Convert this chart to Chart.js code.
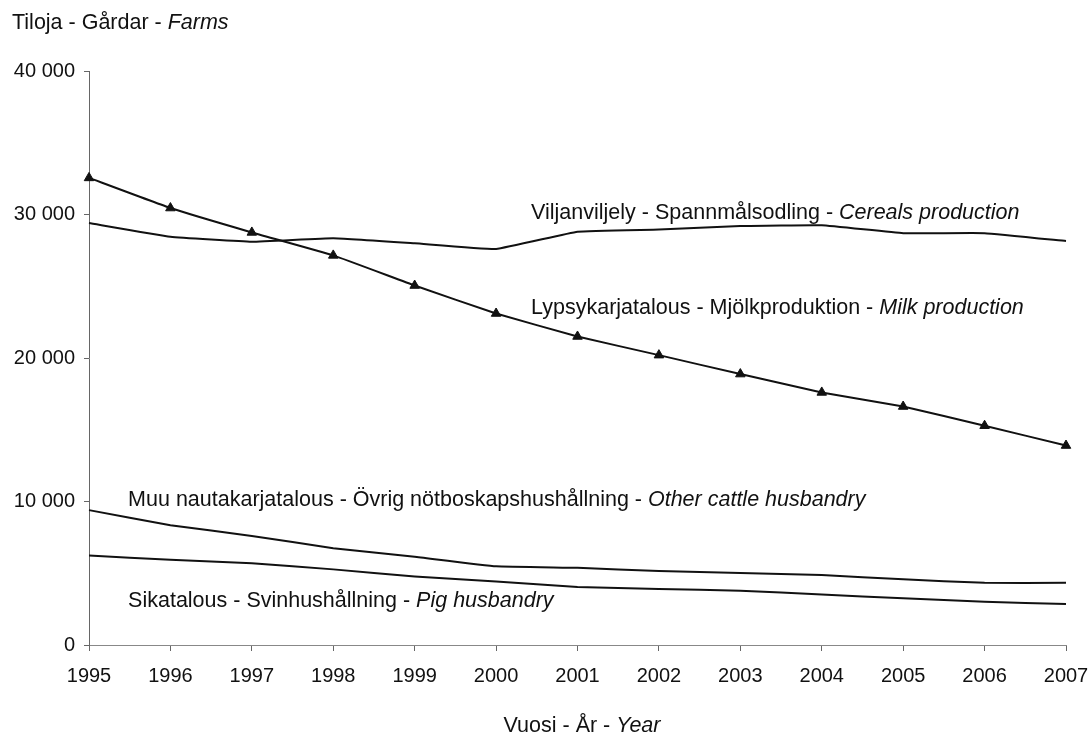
<!DOCTYPE html>
<html>
<head>
<meta charset="utf-8">
<script src="https://cdn.jsdelivr.net/npm/chart.js@4/dist/chart.umd.min.js"></script>
<style>
  html, body { margin: 0; padding: 0; background: #fff; }
  #wrap { width: 1088px; height: 736px; }
</style>
</head>
<body>
<div id="wrap"><canvas id="chart" width="1088" height="736"></canvas></div>
<script>
var years = ['1995','1996','1997','1998','1999','2000','2001','2002','2003','2004','2005','2006','2007'];
var cereals = [29400, 28450, 28100, 28350, 28000, 27600, 28800, 28950, 29200, 29250, 28700, 28700, 28150];
var milk = [32550, 30450, 28750, 27150, 25050, 23100, 21500, 20200, 18880, 17600, 16620, 15280, 13900];
var otherCattle = [9400, 8350, 7600, 6750, 6150, 5480, 5380, 5150, 5020, 4870, 4580, 4330, 4330];
var pigs = [6230, 5940, 5690, 5270, 4780, 4420, 4040, 3900, 3780, 3520, 3250, 3010, 2860];
var yTicks = [0, 10000, 20000, 30000, 40000];

var FONT = '"Liberation Sans", Arial, sans-serif';
var LABEL_SIZE = 21.5;

// series labels, placed in data units (x = year index)
var seriesLabels = [
  { x: 5.43, y: 30100, parts: [['Viljanviljely - Spannmålsodling - ', false], ['Cereals production', true]] },
  { x: 5.43, y: 23450, parts: [['Lypsykarjatalous - Mjölkproduktion - ', false], ['Milk production', true]] },
  { x: 0.48, y: 10100, parts: [['Muu nautakarjatalous - Övrig nötboskapshushållning - ', false], ['Other cattle husbandry', true]] },
  { x: 0.48, y: 3050, parts: [['Sikatalous - Svinhushållning - ', false], ['Pig husbandry', true]] }
];

function drawRuns(ctx, parts, x, y, align) {
  var total = 0;
  parts.forEach(function(p) {
    ctx.font = (p[1] ? 'italic ' : '') + LABEL_SIZE + 'px ' + FONT;
    total += ctx.measureText(p[0]).width;
  });
  if (align === 'center') x -= total / 2;
  parts.forEach(function(p) {
    ctx.font = (p[1] ? 'italic ' : '') + LABEL_SIZE + 'px ' + FONT;
    ctx.fillText(p[0], x, y);
    x += ctx.measureText(p[0]).width;
  });
}

var textPlugin = {
  id: 'texts',
  afterDraw: function(chart) {
    var ctx = chart.ctx;
    var xs = chart.scales.x, ys = chart.scales.y;
    ctx.save();
    ctx.fillStyle = '#111';
    ctx.textBaseline = 'middle';
    ctx.textAlign = 'left';
    drawRuns(ctx, [['Tiloja - Gårdar - ', false], ['Farms', true]], 12, 23, 'left');
    drawRuns(ctx, [['Vuosi - År - ', false], ['Year', true]], 582, 726, 'center');
    seriesLabels.forEach(function(l) {
      drawRuns(ctx, l.parts, xs.getPixelForValue(l.x), ys.getPixelForValue(l.y), 'left');
    });
    ctx.restore();
  }
};

function line(data, withMarkers) {
  return {
    data: data,
    borderColor: '#111',
    backgroundColor: '#111',
    borderWidth: 2,
    tension: 0.1,
    pointStyle: 'triangle',
    pointRadius: withMarkers ? 5.5 : 0,
    pointBorderWidth: 1
  };
}

new Chart(document.getElementById('chart'), {
  type: 'line',
  data: {
    labels: years,
    datasets: [line(cereals, false), line(milk, true), line(otherCattle, false), line(pigs, false)]
  },
  options: {
    responsive: false,
    animation: false,
    layout: { padding: { top: 71, right: 22, left: 0, bottom: 0 } },
    plugins: { legend: { display: false }, tooltip: { enabled: false } },
    scales: {
      x: {
        offset: false,
        grid: { drawOnChartArea: false, drawTicks: true, tickLength: 6, color: '#666' },
        border: { display: true, color: '#888', width: 1 },
        ticks: { color: '#111', font: { family: FONT, size: 20 }, padding: 13, maxRotation: 0, autoSkip: false },
        afterFit: function(s) { s.height = 91; s.paddingLeft = 0; s.paddingRight = 0; }
      },
      y: {
        min: 0,
        max: 40000,
        afterBuildTicks: function(s) { s.ticks = yTicks.map(function(v) { return { value: v }; }); },
        grid: { drawOnChartArea: false, drawTicks: true, tickLength: 5, color: '#666' },
        border: { display: true, color: '#666', width: 1 },
        ticks: {
          color: '#111',
          font: { family: FONT, size: 20 },
          padding: 9,
          callback: function(v) { return String(v).replace(/\B(?=(\d{3})+(?!\d))/g, ' '); }
        },
        afterFit: function(s) { s.width = 89; s.paddingTop = 0; s.paddingBottom = 0; }
      }
    }
  },
  plugins: [textPlugin]
});
</script>
</body>
</html>
